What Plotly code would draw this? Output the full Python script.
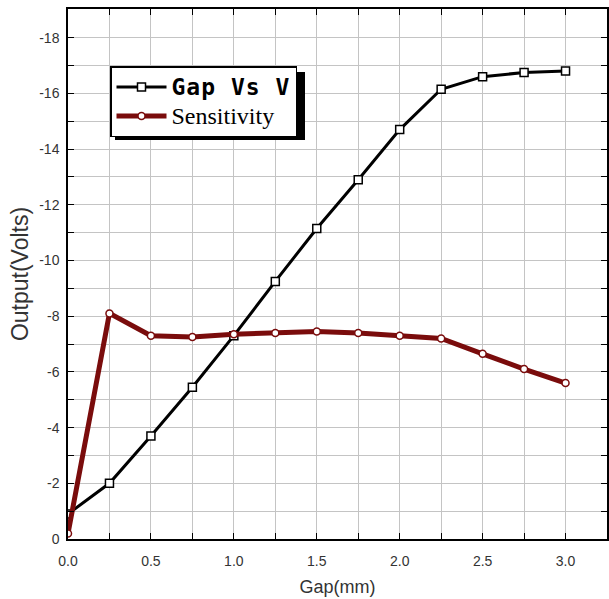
import plotly.graph_objects as go

gap_mm = [0.0, 0.25, 0.5, 0.75, 1.0, 1.25, 1.5, 1.75, 2.0, 2.25, 2.5, 2.75, 3.0]
gap_vs_v = [-0.9, -2.0, -3.7, -5.45, -7.3, -9.25, -11.15, -12.9, -14.7, -16.15, -16.6, -16.75, -16.8]
sensitivity = [-0.2, -8.1, -7.3, -7.25, -7.35, -7.4, -7.45, -7.4, -7.3, -7.2, -6.65, -6.1, -5.6]

x_tickvals = [0.0, 0.25, 0.5, 0.75, 1.0, 1.25, 1.5, 1.75, 2.0, 2.25, 2.5, 2.75, 3.0]
x_ticktext = ["0.0", "", "0.5", "", "1.0", "", "1.5", "", "2.0", "", "2.5", "", "3.0"]
y_tickvals = [0, -1, -2, -3, -4, -5, -6, -7, -8, -9, -10, -11, -12, -13, -14, -15, -16, -17, -18]
y_ticktext = ["0", "", "-2", "", "-4", "", "-6", "", "-8", "", "-10", "", "-12", "", "-14", "", "-16", "", "-18"]

fig = go.Figure()
fig.add_trace(go.Scatter(
    x=gap_mm, y=gap_vs_v, mode="lines+markers",
    name="<span style=\"font-family:DejaVu Sans Mono;font-size:23px;letter-spacing:1px\"><b>Gap Vs V</b></span>",
    line=dict(color="black", width=3),
    marker=dict(symbol="square", size=8, color="white", line=dict(color="black", width=1.5)),
))
fig.add_trace(go.Scatter(
    x=gap_mm, y=sensitivity, mode="lines+markers",
    name="<span style=\"font-size:24px\">Sensitivity</span>",
    line=dict(color="#7a0c0c", width=5),
    marker=dict(symbol="circle", size=7, color="white", line=dict(color="#7a0c0c", width=1.5)),
))

L, R, T, B = 68, 2, 9, 60
W, H = 609, 599
pw, ph = W - L - R, H - T - B

def px_x(p):
    return (p - L) / pw

def px_y(p):
    return (H - B - p) / ph

fig.add_shape(type="rect", xref="paper", yref="paper",
              x0=px_x(115), x1=px_x(305), y0=px_y(140), y1=px_y(72),
              fillcolor="black", line=dict(width=0), layer="above")

axis_common = dict(
    showline=True, linecolor="black", linewidth=1.5, mirror="allticks",
    ticks="inside", ticklen=6, tickcolor="black", tickwidth=1,
    showgrid=True, gridcolor="#c4c4c4", gridwidth=1, zeroline=False,
    automargin=False,
    tickfont=dict(family="Liberation Sans", size=14, color="#333333"),
)

fig.update_layout(
    width=W, height=H,
    margin=dict(l=L, r=R, t=T, b=B),
    paper_bgcolor="white", plot_bgcolor="white",
    showlegend=True,
    legend=dict(x=px_x(110), y=px_y(66), xanchor="left", yanchor="top",
                bgcolor="white", bordercolor="black", borderwidth=1.5,
                font=dict(family="Liberation Serif", size=20, color="black"),
                itemwidth=50, tracegroupgap=0),
    xaxis=dict(range=[0, 3.25], tickvals=x_tickvals, ticktext=x_ticktext,
               ticklabelstandoff=8,
               title=dict(text="Gap(mm)", font=dict(family="Liberation Sans", size=18, color="#333333"), standoff=13),
               **axis_common),
    yaxis=dict(range=[0, -19.03], tickvals=y_tickvals, ticktext=y_ticktext,
               ticklabelstandoff=4,
               title=dict(text="Output(Volts)", font=dict(family="Liberation Sans", size=23, color="#333333"), standoff=4),
               **axis_common),
)

fig.write_html("out.html")
